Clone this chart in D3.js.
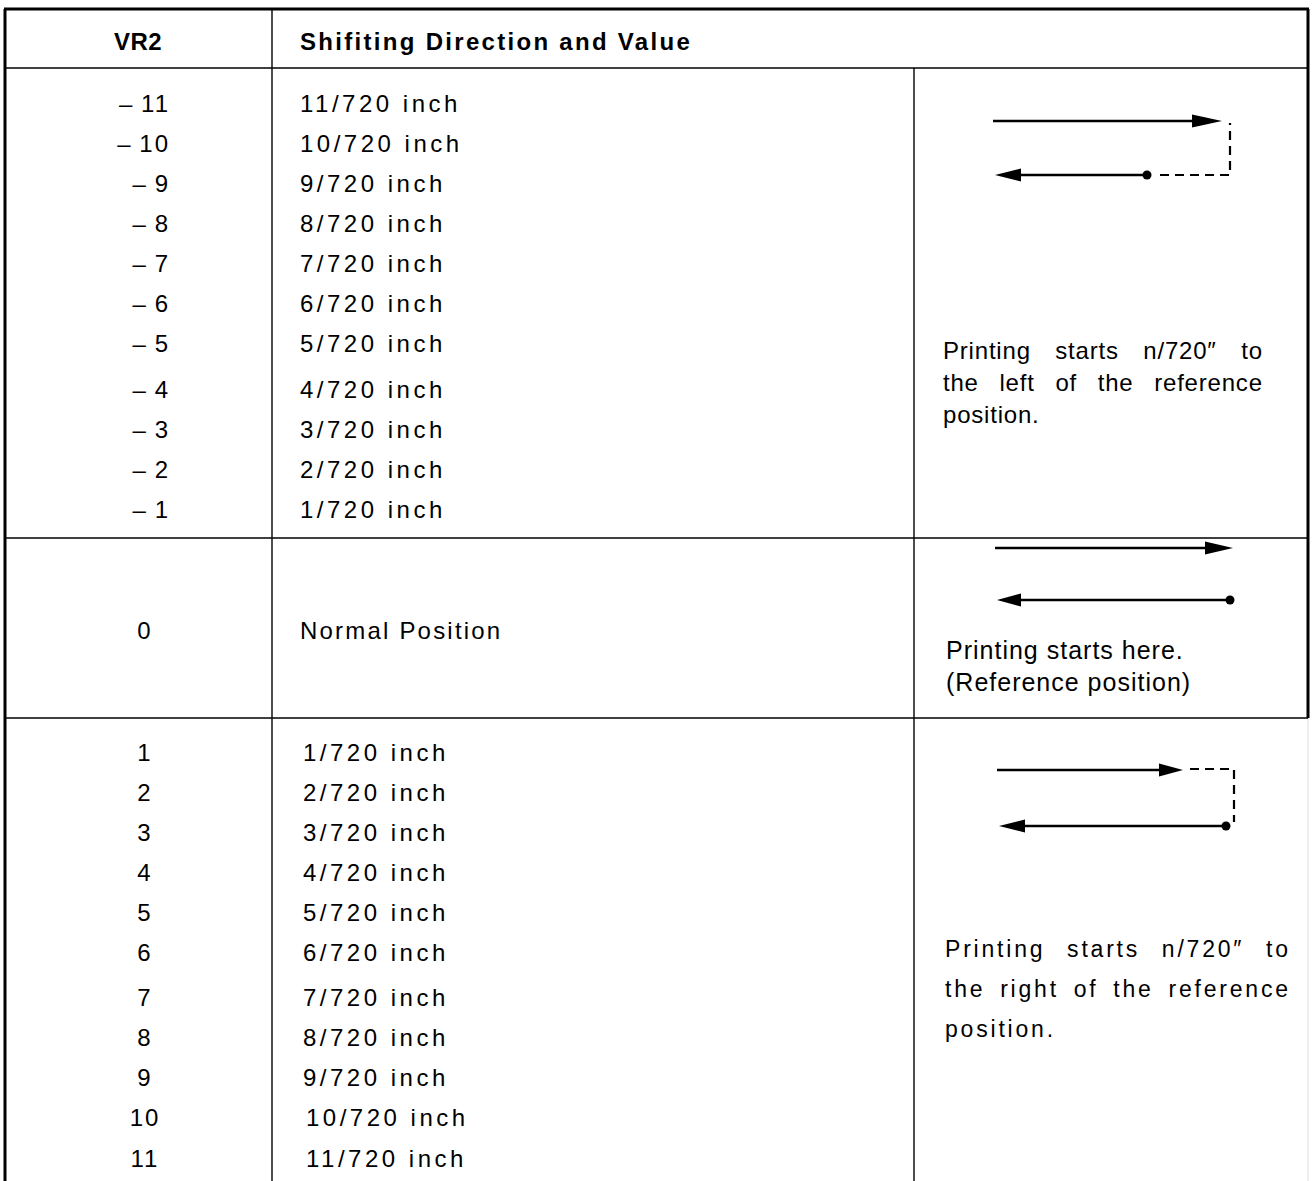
<!DOCTYPE html>
<html><head><meta charset="utf-8">
<script src="https://cdn.jsdelivr.net/npm/d3@7"></script>
<style>body{margin:0;background:#fff}svg{display:block}</style></head>
<body>
<svg id="c" width="1312" height="1181"></svg>
<script>
// ---- data ----
const headers = ["VR2", "Shifiting Direction and Value"];
const vr2Values = [-11,-10,-9,-8,-7,-6,-5,-4,-3,-2,-1,0,1,2,3,4,5,6,7,8,9,10,11];
const shiftLabels = ["11/720 inch","10/720 inch","9/720 inch","8/720 inch","7/720 inch","6/720 inch",
  "5/720 inch","4/720 inch","3/720 inch","2/720 inch","1/720 inch","Normal Position",
  "1/720 inch","2/720 inch","3/720 inch","4/720 inch","5/720 inch","6/720 inch",
  "7/720 inch","8/720 inch","9/720 inch","10/720 inch","11/720 inch"];
const noteLeft = ["Printing starts n/720\u2033 to","the left of the reference","position."];
const noteZero = ["Printing starts here.","(Reference position)"];
const noteRight = ["Printing starts n/720\u2033 to","the right of the reference","position."];

// ---- layout ----
const svg = d3.select("#c");
const y = d3.scaleLinear()
  .domain([-11,-5,-4,-1,0,1,6,7,11])
  .range([103,343,389,509,630,752,952,997,1158]);
const colX = {left:5, c1:272, c2:914, right:1308};
const rowLines = {top:9, head:68, s1:538, s2:718, bottom:1181};
const FONT = "'Liberation Sans', Arial, Helvetica, sans-serif";

const g = svg.append("g");
g.append("line").attr("x1",colX.left-1).attr("x2",colX.right+1).attr("y1",rowLines.top).attr("y2",rowLines.top).attr("stroke","#000").attr("stroke-width",3);
g.append("line").attr("x1",colX.left).attr("x2",colX.left).attr("y1",rowLines.top).attr("y2",rowLines.bottom).attr("stroke","#000").attr("stroke-width",3);
g.append("line").attr("x1",colX.right).attr("x2",colX.right).attr("y1",rowLines.top).attr("y2",rowLines.s2).attr("stroke","#000").attr("stroke-width",3);
g.append("line").attr("x1",colX.right).attr("x2",colX.right).attr("y1",rowLines.s2).attr("y2",rowLines.bottom).attr("stroke","#ddd").attr("stroke-width",1);
[rowLines.head, rowLines.s1, rowLines.s2].forEach(yy=>{
  g.append("line").attr("x1",colX.left).attr("x2",colX.right).attr("y1",yy).attr("y2",yy).attr("stroke","#000").attr("stroke-width",1.6);
});
g.append("line").attr("x1",colX.c1).attr("x2",colX.c1).attr("y1",rowLines.top).attr("y2",rowLines.bottom).attr("stroke","#000").attr("stroke-width",1.4);
g.append("line").attr("x1",colX.c2).attr("x2",colX.c2).attr("y1",rowLines.head).attr("y2",rowLines.bottom).attr("stroke","#000").attr("stroke-width",1.4);

// headers
const headY = 41;
svg.append("text").attr("x",138).attr("y",headY).attr("dy","0.36em").attr("text-anchor","middle")
  .style("font-family",FONT).style("font-weight","bold").style("font-size","24px").style("letter-spacing","0.5px")
  .text(headers[0]);
svg.append("text").attr("x",300).attr("y",headY).attr("dy","0.36em")
  .style("font-family",FONT).style("font-weight","bold").style("font-size","24px").style("letter-spacing","2.3px")
  .text(headers[1]);

// VR2 numbers
svg.append("g").selectAll("text").data(vr2Values).join("text")
  .attr("x", d => d < 0 ? 170 : 145)
  .attr("y", d => y(d)).attr("dy","0.36em")
  .attr("text-anchor", d => d < 0 ? "end" : "middle")
  .style("font-family",FONT).style("font-size","24px").style("letter-spacing","2px")
  .text(d => d < 0 ? "\u2013\u2009" + Math.abs(d) : String(d));

// shift labels
svg.append("g").selectAll("text").data(vr2Values).join("text")
  .attr("x", d => d >= 10 ? 306 : d > 0 ? 303 : 300)
  .attr("y", d => y(d)).attr("dy","0.36em")
  .style("font-family",FONT).style("font-size","24px")
  .style("letter-spacing", d => d === 0 ? "2.2px" : "3.5px")
  .text((d,i) => shiftLabels[i]);

// justified note (width null => left aligned)
function note(lines, x, yTop, lh, width, size, spacing){
  lines.forEach((ln,i)=>{
    const yy = yTop + i*lh;
    const words = ln.split(" ");
    const last = i === lines.length-1;
    if(!width || last || words.length===1){
      svg.append("text").attr("x",x).attr("y",yy).attr("dy","0.36em")
        .style("font-family",FONT).style("font-size",size+"px").style("letter-spacing",spacing+"px").text(ln);
      return;
    }
    const ts = words.map(w => svg.append("text").attr("y",yy).attr("dy","0.36em")
        .style("font-family",FONT).style("font-size",size+"px").style("letter-spacing",spacing+"px").text(w));
    const ws = ts.map(t => t.node().getComputedTextLength() - spacing);
    const gap = (width - d3.sum(ws)) / (words.length-1);
    let cx = x;
    ts.forEach((t,k)=>{ t.attr("x",cx); cx += ws[k] + gap; });
  });
}
note(noteLeft, 943, 350, 32, 319, 24, 0.8);
note(noteZero, 946, 650, 32, null, 25, 1.0);
note(noteRight, 945, 949, 40, 343, 23, 2.8);

// arrows
const ink = svg.append("g");
function arrowR(x1, tip, yy, head){
  ink.append("line").attr("x1",x1).attr("x2",tip-head+4).attr("y1",yy).attr("y2",yy).attr("stroke","#000").attr("stroke-width",2.4);
  ink.append("path").attr("d",`M${tip},${yy} L${tip-head},${yy-6.5} L${tip-head},${yy+6.5} Z`).attr("fill","#000");
}
function arrowL(tip, x2, yy, head){
  ink.append("line").attr("x1",tip+head-4).attr("x2",x2).attr("y1",yy).attr("y2",yy).attr("stroke","#000").attr("stroke-width",2.4);
  ink.append("path").attr("d",`M${tip},${yy} L${tip+head},${yy-6.5} L${tip+head},${yy+6.5} Z`).attr("fill","#000");
}
function dot(cx, cy){ ink.append("circle").attr("cx",cx).attr("cy",cy).attr("r",4.5).attr("fill","#000"); }
function dash(pts){
  ink.append("path").attr("d", d3.line()(pts)).attr("fill","none").attr("stroke","#000")
    .attr("stroke-width",2.2).attr("stroke-dasharray","9,6");
}
// left shift
arrowR(993, 1222, 121, 30);
arrowL(995, 1147, 175, 26);
dot(1147, 175);
dash([[1160,175],[1230,175],[1230,123]]);
// normal
arrowR(995, 1233, 548, 28);
arrowL(997, 1230, 600, 24);
dot(1230, 600);
// right shift
arrowR(997, 1183, 770, 24);
arrowL(999, 1226, 826, 26);
dot(1226, 826);
dash([[1190,769],[1234,769],[1234,822]]);
</script>
</body></html>
